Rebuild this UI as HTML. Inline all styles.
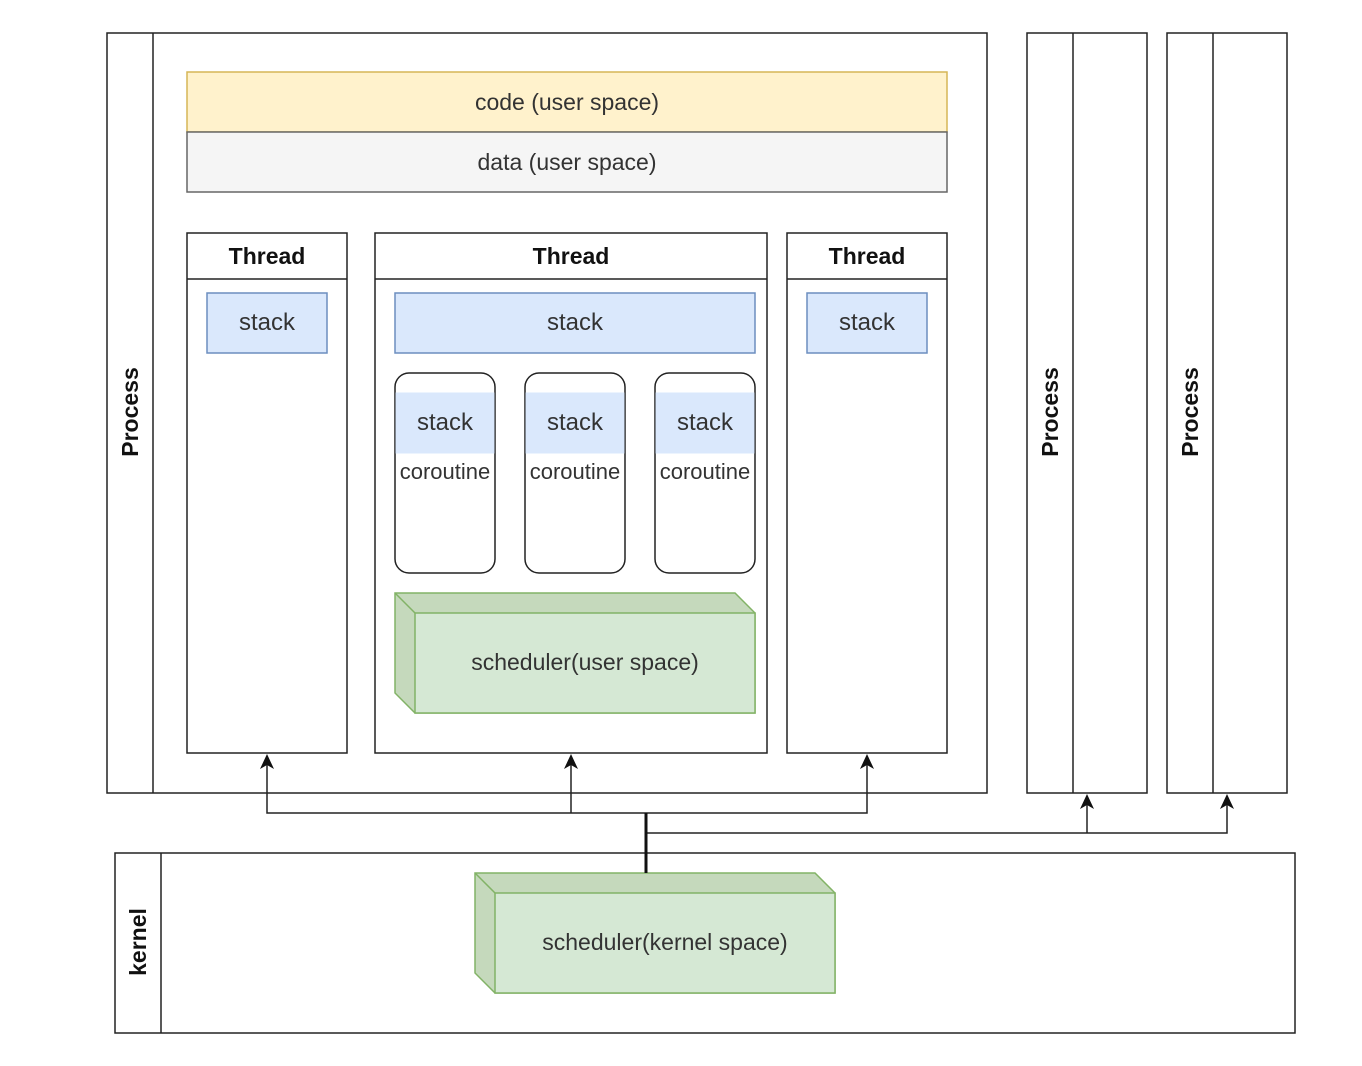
<!DOCTYPE html>
<html><head><meta charset="utf-8"><style>html,body{margin:0;padding:0;background:#fff}svg{display:block}</style></head>
<body>
<svg width="1362" height="1066" viewBox="0 0 1362 1066" xmlns="http://www.w3.org/2000/svg" font-family="Liberation Sans, sans-serif">
<rect width="1362" height="1066" fill="#fff"/>
<g stroke="#222" stroke-width="1.5" fill="none">
<rect x="107" y="33" width="880" height="760"/><line x1="153" y1="33" x2="153" y2="793"/>
<rect x="1027" y="33" width="120" height="760"/><line x1="1073" y1="33" x2="1073" y2="793"/>
<rect x="1167" y="33" width="120" height="760"/><line x1="1213" y1="33" x2="1213" y2="793"/>
<rect x="115" y="853" width="1180" height="180"/><line x1="161" y1="853" x2="161" y2="1033"/>
</g>
<g font-weight="bold" font-size="23" fill="#111" text-anchor="middle">
<text transform="translate(138,412) rotate(-90)">Process</text>
<text transform="translate(1058,412) rotate(-90)">Process</text>
<text transform="translate(1198,412) rotate(-90)">Process</text>
<text transform="translate(146,942) rotate(-90)">kernel</text>
</g>
<rect x="187" y="72" width="760" height="60" fill="#fff2cc" stroke="#d6b656" stroke-width="1.5"/>
<rect x="187" y="132" width="760" height="60" fill="#f5f5f5" stroke="#666" stroke-width="1.5"/>
<g font-size="23" fill="#333" text-anchor="middle">
<text x="567" y="110">code (user space)</text>
<text x="567" y="170">data (user space)</text>
</g>
<g stroke="#222" stroke-width="1.5" fill="none">
<rect x="187" y="233" width="160" height="520"/><line x1="187" y1="279" x2="347" y2="279"/>
<rect x="375" y="233" width="392" height="520"/><line x1="375" y1="279" x2="767" y2="279"/>
<rect x="787" y="233" width="160" height="520"/><line x1="787" y1="279" x2="947" y2="279"/>
</g>
<g font-weight="bold" font-size="23" fill="#111" text-anchor="middle">
<text x="267" y="264">Thread</text><text x="571" y="264">Thread</text><text x="867" y="264">Thread</text>
</g>
<g fill="#dae8fc" stroke="#6c8ebf" stroke-width="1.5">
<rect x="207" y="293" width="120" height="60"/>
<rect x="395" y="293" width="360" height="60"/>
<rect x="807" y="293" width="120" height="60"/>
</g>
<g stroke="#222" stroke-width="1.5" fill="#fff">
<rect x="395" y="373" width="100" height="200" rx="14"/>
<rect x="525" y="373" width="100" height="200" rx="14"/>
<rect x="655" y="373" width="100" height="200" rx="14"/>
</g>
<g fill="#dae8fc" stroke="#dae8fc">
<rect x="396" y="393" width="98" height="60"/>
<rect x="526" y="393" width="98" height="60"/>
<rect x="656" y="393" width="98" height="60"/>
</g>
<g font-size="24" fill="#333" text-anchor="middle">
<text x="267" y="330">stack</text><text x="575" y="330">stack</text><text x="867" y="330">stack</text>
<text x="445" y="430">stack</text><text x="575" y="430">stack</text><text x="705" y="430">stack</text>
</g>
<g font-size="22" fill="#333" text-anchor="middle">
<text x="445" y="479">coroutine</text><text x="575" y="479">coroutine</text><text x="705" y="479">coroutine</text>
</g>
<g stroke="#82b366" stroke-width="1.5">
<path d="M395,593 L735,593 L755,613 L755,713 L415,713 L395,693 Z" fill="#c5d9bc"/>
<rect x="415" y="613" width="340" height="100" fill="#d5e8d4"/>
<line x1="395" y1="593" x2="415" y2="613"/>
<path d="M475,873 L815,873 L835,893 L835,993 L495,993 L475,973 Z" fill="#c5d9bc"/>
<rect x="495" y="893" width="340" height="100" fill="#d5e8d4"/>
<line x1="475" y1="873" x2="495" y2="893"/>
</g>
<g font-size="23" fill="#333" text-anchor="middle">
<text x="585" y="670">scheduler(user space)</text>
<text x="665" y="950">scheduler(kernel space)</text>
</g>
<g stroke="#222" stroke-width="1.5" fill="none">
<polyline points="267,764 267,813 867,813 867,764"/>
<line x1="571" y1="764" x2="571" y2="813"/>
<polyline points="646,833 1227,833 1227,804"/>
<line x1="1087" y1="833" x2="1087" y2="804"/>
</g>
<line x1="646" y1="813" x2="646" y2="873" stroke="#111" stroke-width="3"/>
<g fill="#111">
<path d="M267,754 l-7,15 l7,-4 l7,4 Z"/>
<path d="M571,754 l-7,15 l7,-4 l7,4 Z"/>
<path d="M867,754 l-7,15 l7,-4 l7,4 Z"/>
<path d="M1087,794 l-7,15 l7,-4 l7,4 Z"/>
<path d="M1227,794 l-7,15 l7,-4 l7,4 Z"/>
</g>
</svg>
</body></html>
